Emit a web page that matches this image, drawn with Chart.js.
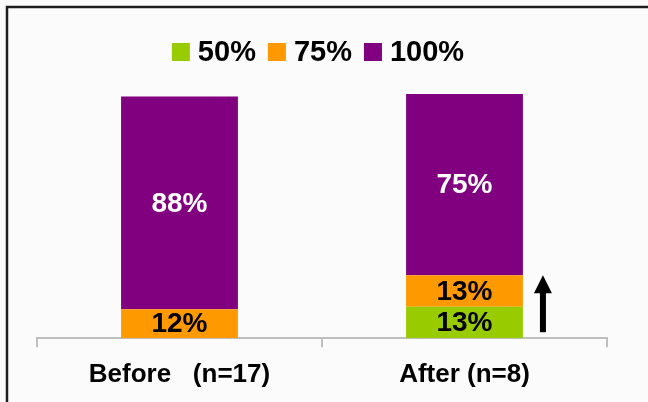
<!DOCTYPE html>
<html>
<head>
<meta charset="utf-8">
<script src="https://cdn.jsdelivr.net/npm/chart.js@4"></script>
<style>
  html, body { margin: 0; padding: 0; background: #fbfbfb; }
  #wrap { width: 648px; height: 402px; position: relative; }
</style>
</head>
<body>
<div id="wrap"><canvas id="stackChart"></canvas></div>
<script>
// data
const groups = ['Before   (n=17)', 'After (n=8)'];
const levels = ['50%', '75%', '100%'];
const share50 = [0, 13];
const share75 = [12, 13];
const share100 = [88, 75];
const levelColors = ['#99CC00', '#FF9900', '#800080'];
const labelColors = ['#000000', '#000000', '#FFFFFF'];

const FONT = "'Liberation Sans', Arial, sans-serif";

// frame lines (top + left) and own legend
const framePlugin = {
  id: 'frame',
  beforeDraw(chart) {
    const c = chart.ctx;
    c.save();
    c.fillStyle = '#fbfbfb';
    c.fillRect(0, 0, chart.width, chart.height);
    c.strokeStyle = '#1e1e1e';
    c.lineWidth = 2.5;
    c.beginPath();
    c.moveTo(7, chart.height);
    c.lineTo(7, 7);
    c.lineTo(chart.width, 7);
    c.stroke();
    c.restore();
  },
  afterDraw(chart) {
    const c = chart.ctx;
    c.save();
    c.font = 'bold 29px ' + FONT;
    c.textBaseline = 'middle';
    const box = 18, gap = 8, spacing = 12;
    const items = chart.data.datasets.map(ds => ({
      text: ds.label, color: ds.backgroundColor, w: c.measureText(ds.label).width
    }));
    let total = 0;
    items.forEach((it, i) => { total += box + gap + it.w + (i ? spacing : 0); });
    let x = (chart.width - total) / 2 - 6;
    const y = 52;
    items.forEach(it => {
      c.fillStyle = it.color;
      c.fillRect(x, y - box / 2, box, box);
      c.fillStyle = '#000';
      c.fillText(it.text, x + box + gap, y + 1);
      x += box + gap + it.w + spacing;
    });
    c.restore();
  }
};

// value labels inside segments + arrow beside the After bar
const labelPlugin = {
  id: 'segLabels',
  afterDatasetsDraw(chart) {
    const c = chart.ctx;
    c.save();
    c.font = 'bold 28px ' + FONT;
    c.textAlign = 'center';
    c.textBaseline = 'middle';
    chart.data.datasets.forEach((ds, di) => {
      const meta = chart.getDatasetMeta(di);
      meta.data.forEach((bar, i) => {
        const v = ds.data[i];
        if (!v) return;
        c.fillStyle = labelColors[di];
        c.fillText(v + '%', bar.x, (bar.y + bar.base) / 2 + 1);
      });
    });

    // arrow: from axis up to top of the orange segment of "After"
    const last = groups.length - 1;
    const orange = chart.getDatasetMeta(1).data[last];
    const ax = orange.x + orange.width / 2 + 20;
    const top = orange.y;
    const bottom = chart.scales.y.getPixelForValue(0) - 6;
    c.fillStyle = '#000';
    c.fillRect(ax - 3, top + 16, 6, bottom - top - 16);
    c.beginPath();
    c.moveTo(ax, top);
    c.lineTo(ax - 9, top + 18);
    c.lineTo(ax + 9, top + 18);
    c.closePath();
    c.fill();
    c.restore();
  }
};

new Chart(document.getElementById('stackChart'), {
  type: 'bar',
  data: {
    labels: groups,
    datasets: [
      { label: levels[0], data: share50, backgroundColor: levelColors[0] },
      { label: levels[1], data: share75, backgroundColor: levelColors[1] },
      { label: levels[2], data: share100, backgroundColor: levelColors[2] }
    ]
  },
  options: {
    responsive: true,
    maintainAspectRatio: false,
    animation: false,
    barPercentage: 0.41,
    categoryPercentage: 1.0,
    layout: { padding: { top: 94, left: 37, right: 41, bottom: 0 } },
    plugins: {
      legend: { display: false },
      tooltip: { enabled: false }
    },
    scales: {
      x: {
        stacked: true,
        offset: true,
        grid: {
          display: true,
          offset: true,
          drawOnChartArea: false,
          color: '#bfbfbf',
          lineWidth: 2,
          tickLength: 9
        },
        border: { display: true, color: '#bfbfbf', width: 2 },
        ticks: {
          color: '#000',
          font: { family: FONT, size: 26, weight: 'bold', lineHeight: 0.8 },
          padding: 17
        }
      },
      y: {
        stacked: true,
        display: false,
        min: 0,
        max: 101
      }
    }
  },
  plugins: [framePlugin, labelPlugin]
});
</script>
</body>
</html>
